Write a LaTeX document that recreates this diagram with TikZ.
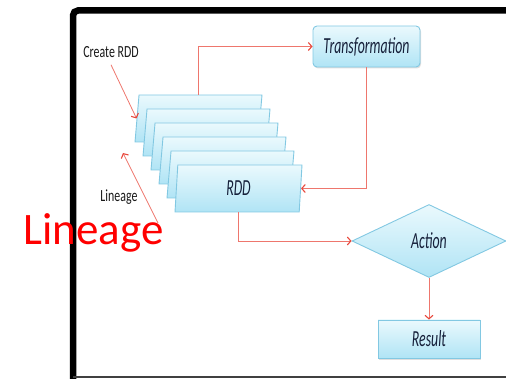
\documentclass[tikz,border=0pt]{standalone}
\usepackage{fontspec}
\setmainfont{Carlito}
\usetikzlibrary{positioning,shapes.geometric,arrows.meta,shadows}

\definecolor{flowred}{RGB}{232,72,60}
\definecolor{boxedge}{RGB}{130,200,226}
\definecolor{boxtop}{RGB}{234,249,253}
\definecolor{boxbot}{RGB}{176,228,245}
\definecolor{inkblue}{RGB}{22,32,58}
\newcommand{\narrow}[2][0.6]{\scalebox{#1}[1]{#2}}

\tikzset{
 cell/.style={draw=boxedge, line width=0.9pt, top color=boxtop, bottom color=boxbot,
  text=inkblue, font=\fontsize{23}{23}\selectfont\itshape, inner sep=0pt},
 rddbox/.style={cell, trapezium, trapezium left angle=81.5, trapezium right angle=98.5,
  trapezium stretches body=true, inner sep=2pt, minimum width=127pt, minimum height=47pt},
 flow/.style={draw=flowred!75!white, line width=0.8pt,
  -{Straight Barb[length=3.5pt,width=8pt,line width=1.1pt,color=flowred]}},
 note/.style={text=black!90, font=\fontsize{17}{17}\selectfont, inner sep=0pt}
}

\begin{document}
\begin{tikzpicture}[x=1pt, y=-1pt]
 \useasboundingbox (0,0) rectangle (506,379);
 % slide frame
 \draw[line width=6.5pt, rounded corners=5pt] (73,382) -- (73,10.5) -- (510,10.5);
 \draw[black!75, line width=1.2pt] (73,377) -- (510,377);

 % stack of rdds, back to front
 \node[rddbox] (rdd1) at (198.5,118.5) {\strut};
 \foreach \i [count=\j from 2] in {1,...,4}
  \node[rddbox, on grid, below right=14pt and 8pt of rdd\i] (rdd\j) {\strut};
 \node[rddbox, on grid, below right=14pt and 8pt of rdd5] (rdd6) {\narrow{RDD}};

 \node[cell, rounded corners=4pt, minimum width=107pt, minimum height=41pt,
  drop shadow={opacity=0.25, shadow xshift=1pt, shadow yshift=-1.5pt}] (trans) at (366.5,46.5) {\narrow{Transformation}};
 \node[cell, diamond, aspect=2.1, minimum width=154pt, minimum height=73pt] (action) at (429,241) {\narrow{Action}};
 \node[cell, minimum width=102pt, minimum height=38pt, on grid, below=98pt of action,
  drop shadow={opacity=0.25, shadow xshift=1pt, shadow yshift=-1.5pt}] (result) {\narrow{Result}};

 \node[note] (create) at (111,52) {\narrow[0.7]{Create RDD}};
 \node[note] (lin) at (119,197) {\narrow[0.7]{Lineage}};
 \node[text=red, font=\fontsize{45}{45}\selectfont, inner sep=0pt, anchor=base] (lineage) at (93.5,245) {Lineage};

 \coordinate (lintail) at (158,223);
 \coordinate (linhead) at (123,153);

 \draw[flow] (rdd1.north) |- (trans.west);
 \draw[flow] (trans.south) |- (rdd6.east);
 \draw[flow] (rdd6.south) |- (action.west);
 \draw[flow] (action.south) -- (result.north);
 \draw[flow] ([yshift=-7pt]create.south) -- (rdd1.west);
 \draw[flow] (lintail) -- (linhead);
\end{tikzpicture}
\end{document}
